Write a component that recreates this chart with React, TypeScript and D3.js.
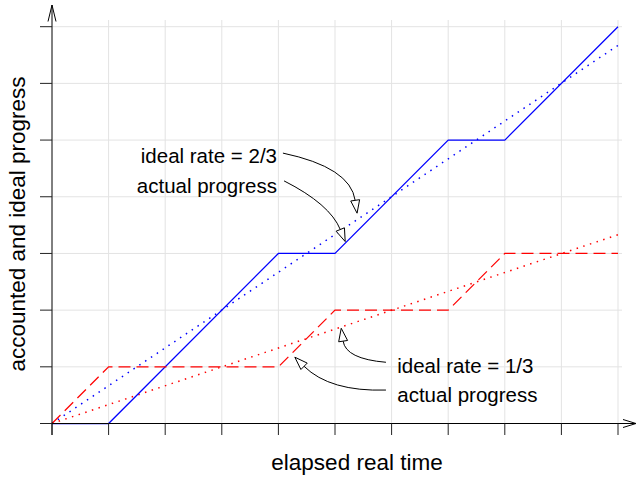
import * as d3 from "d3";

const W = 637;
const H = 477;

// tick positions on both axes (grid units)
const xTicks = [0, 1, 2, 3, 4, 5, 6, 7, 8, 9, 10];
const yTicks = [0, 1, 2, 3, 4, 5, 6, 7];

// accounted progress, piecewise linear
const stepX = [0, 1, 4, 5, 7, 8, 10];
const fastActual = [0, 0, 3, 3, 5, 5, 7];
const slowActual = [0, 1, 1, 2, 2, 3, 3];

// ideal progress (straight lines from origin)
const idealX = [0, 10];
const fastIdeal = [0, 6.67];
const slowIdeal = [0, 3.33];

// annotations: label, text anchor, arrow start / control / tip (data units)
const noteLabels = ["ideal rate = 2/3", "actual progress", "ideal rate = 1/3", "actual progress"];
const noteText = [[3.975, 4.59], [3.975, 4.06], [6.1, 0.89], [6.1, 0.38]];
const noteAnchor = ["end", "end", "start", "start"];
const noteFrom = [[4.08, 4.77], [4.1, 4.28], [5.9, 1.08], [5.9, 0.59]];
const noteCtrl = [[5.27, 4.52], [4.91, 3.87], [5.19, 1.14], [4.91, 0.56]];
const noteTo = [[5.39, 3.71], [5.18, 3.21], [5.11, 1.68], [4.29, 1.17]];

const FONT = "'Liberation Sans', Arial, Helvetica, sans-serif";

export default function App() {
  const x = d3.scaleLinear().domain([0, 10]).range([52, 618]);
  const y = d3.scaleLinear().domain([0, 7]).range([423.5, 26.7]);

  const line = d3
    .line<[number, number]>()
    .x((d) => x(d[0]))
    .y((d) => y(d[1]));

  const zip = (xs: number[], ys: number[]) =>
    xs.map((v, i) => [v, ys[i]] as [number, number]);

  const x0 = x(0);
  const y0 = y(0);

  // curved annotation arrows
  const arrows = noteFrom.map((s, i) => {
    const S = [x(s[0]), y(s[1])];
    const C = [x(noteCtrl[i][0]), y(noteCtrl[i][1])];
    const E = [x(noteTo[i][0]), y(noteTo[i][1])];
    const dx = E[0] - C[0];
    const dy = E[1] - C[1];
    const len = Math.hypot(dx, dy);
    const ux = dx / len;
    const uy = dy / len;
    const bx = E[0] - 13 * ux;
    const by = E[1] - 13 * uy;
    const hw = 4.5;
    const head = [
      [E[0], E[1]],
      [bx - uy * hw, by + ux * hw],
      [bx + uy * hw, by - ux * hw],
    ];
    return (
      <g key={i}>
        <path
          d={`M${S[0]},${S[1]} Q${C[0]},${C[1]} ${bx},${by}`}
          fill="none"
          stroke="#000"
          strokeWidth={1}
        />
        <polygon
          points={head.map((p) => p.join(",")).join(" ")}
          fill="#fff"
          stroke="#000"
          strokeWidth={1}
        />
      </g>
    );
  });

  return (
    <div style={{ position: "absolute", left: 0, top: 0 }}>
      <svg width={W} height={H} style={{ display: "block", background: "#fff" }}>
        {/* grid */}
        {xTicks
          .filter((t) => t > 0)
          .map((t) => (
            <line key={"gx" + t} x1={x(t)} x2={x(t)} y1={20} y2={y0} stroke="#e3e3e3" strokeWidth={1} />
          ))}
        {yTicks
          .filter((t) => t > 0)
          .map((t) => (
            <line key={"gy" + t} x1={x0} x2={622} y1={y(t)} y2={y(t)} stroke="#e3e3e3" strokeWidth={1} />
          ))}

        {/* ideal lines */}
        <path d={line(zip(idealX, fastIdeal)) || ""} fill="none" stroke="#0000ff" strokeWidth={1.5} strokeDasharray="1.5 5.5" />
        <path d={line(zip(idealX, slowIdeal)) || ""} fill="none" stroke="#ff0000" strokeWidth={1.5} strokeDasharray="1.5 5.5" />

        {/* actual progress */}
        <path d={line(zip(stepX, fastActual)) || ""} fill="none" stroke="#0000ff" strokeWidth={1.25} />
        <path d={line(zip(stepX, slowActual)) || ""} fill="none" stroke="#ff0000" strokeWidth={1.25} strokeDasharray="12 6" />

        {/* axes */}
        <line x1={x0} x2={x0} y1={435} y2={5} stroke="#000" strokeWidth={1} />
        <polyline points={`${x0 - 4},21.5 ${x0},5 ${x0 + 4},21.5`} fill="none" stroke="#000" strokeWidth={1} />
        <line x1={40} x2={636} y1={y0} y2={y0} stroke="#000" strokeWidth={1} />
        <polyline points={`623,${y0 - 4} 636,${y0} 623,${y0 + 4}`} fill="none" stroke="#000" strokeWidth={1} />
        {xTicks.map((t) => (
          <line key={"tx" + t} x1={x(t)} x2={x(t)} y1={y0} y2={435} stroke="#222" strokeWidth={1} />
        ))}
        {yTicks.map((t) => (
          <line key={"ty" + t} x1={40} x2={x0} y1={y(t)} y2={y(t)} stroke="#222" strokeWidth={1} />
        ))}

        {/* annotations */}
        {arrows}
        {noteLabels.map((lab, i) => (
          <text
            key={"n" + i}
            x={x(noteText[i][0])}
            y={y(noteText[i][1])}
            textAnchor={noteAnchor[i] as any}
            fontFamily={FONT}
            fontSize={20.5}
            fill="#000"
          >
            {lab}
          </text>
        ))}

        {/* axis titles */}
        <text x={357} y={470} textAnchor="middle" fontFamily={FONT} fontSize={22.5} fill="#000">
          elapsed real time
        </text>
        <text
          transform="translate(25,224) rotate(-90)"
          textAnchor="middle"
          fontFamily={FONT}
          fontSize={22.5}
          fill="#000"
        >
          accounted and ideal progress
        </text>
      </svg>
    </div>
  );
}
